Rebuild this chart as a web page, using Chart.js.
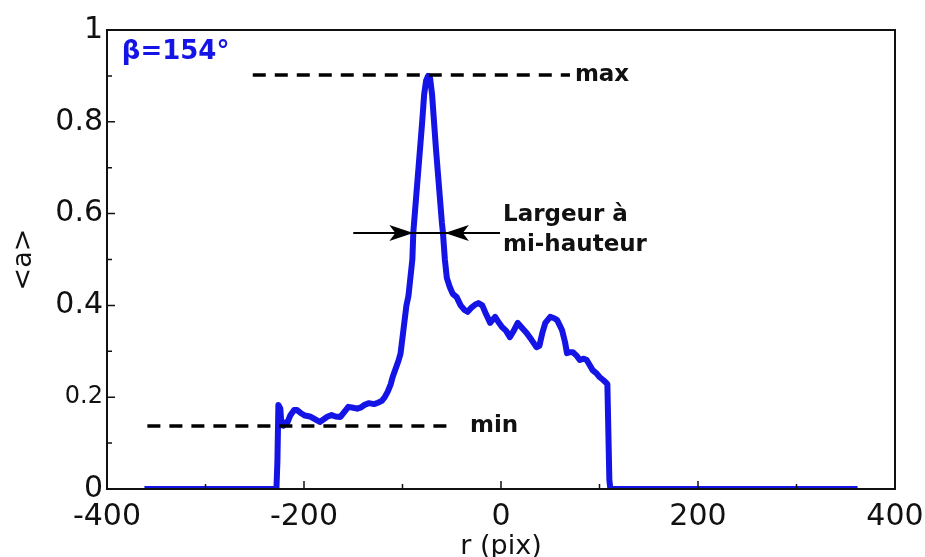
<!DOCTYPE html>
<html>
<head>
<meta charset="utf-8">
<script src="https://cdn.jsdelivr.net/npm/chart.js@4.4.1/dist/chart.umd.min.js"></script>
<style>
  html, body { margin: 0; padding: 0; background: #fff; }
  #wrap { width: 925px; height: 557px; }
</style>
</head>
<body>
<div id="wrap"><canvas id="profileChart"></canvas></div>
<script>
// mean profile <a> along r
const rValues = [
  -362, -300, -228, -227, -226, -224, -223, -221, -219, -217, -214, -210, -207, -203, -199,
  -194, -189, -184, -180, -176, -172, -168, -163, -159, -155, -150, -146, -142, -138, -134,
  -129, -125, -121, -118, -115, -112, -110, -107, -104, -102, -100, -98, -96, -94, -92,
  -90, -89, -86, -83, -80, -78, -76, -74, -72, -70, -68, -66, -63, -60, -59,
  -57, -55, -52, -49, -45, -41, -37, -34, -30, -26, -23, -19, -15, -11, -8,
  -6, -3, 1, 5, 9, 13, 17, 21, 26, 31, 36, 39, 42, 45, 50,
  54, 57, 60, 62, 65, 67, 70, 73, 77, 80, 84, 87, 90, 93, 97,
  100, 104, 107, 108, 110, 111, 200, 362
];
const aValues = [
  0, 0, 0, 0.06, 0.183, 0.175, 0.14, 0.138, 0.145, 0.144, 0.16, 0.172, 0.172, 0.165, 0.16,
  0.158, 0.152, 0.146, 0.152, 0.158, 0.161, 0.158, 0.157, 0.168, 0.179, 0.177, 0.175, 0.178, 0.184, 0.187,
  0.185, 0.188, 0.192, 0.2, 0.212, 0.228, 0.244, 0.262, 0.28, 0.295, 0.33, 0.365, 0.4, 0.42, 0.46,
  0.5, 0.56, 0.64, 0.72, 0.8, 0.86, 0.89, 0.9, 0.895, 0.86, 0.8, 0.74, 0.66, 0.58, 0.56,
  0.5, 0.46, 0.44, 0.425, 0.418, 0.4, 0.39, 0.386, 0.395, 0.402, 0.405, 0.4, 0.38, 0.362, 0.37,
  0.375, 0.365, 0.353, 0.345, 0.331, 0.345, 0.362, 0.352, 0.34, 0.325, 0.309, 0.312, 0.34, 0.362, 0.375,
  0.372, 0.368, 0.355, 0.346, 0.32, 0.296, 0.298, 0.298, 0.29, 0.281, 0.284, 0.281, 0.27, 0.259, 0.252,
  0.244, 0.237, 0.231, 0.228, 0.02, 0, 0, 0
];

// max / min / half-width guides
const maxLevel = 0.902;
const maxLineR = [-252, 70];
const minLevel = 0.137;
const minLineR = [-359, -48];
const halfLevel = 0.558;
const halfLineR = [-150, -1];
const halfArrowTips = [-89, -57];

const xMin = -400, xMax = 400, xStep = 200;
const yMin = 0, yMax = 1, yStep = 0.2;
const xMinorTicks = [-300, -100, 100, 300];
const yMinorTicks = [0.1, 0.3, 0.5, 0.7, 0.9];

const blue = '#1414e6';

// frame, inward ticks, arrowheads and text labels
const decorPlugin = {
  id: 'decor',
  afterDatasetsDraw(chart) {
    const ctx = chart.ctx;
    const area = chart.chartArea;
    const xs = chart.scales.x, ys = chart.scales.y;
    ctx.save();

    // frame
    ctx.strokeStyle = '#111';
    ctx.lineWidth = 2;
    ctx.strokeRect(area.left, area.top, area.right - area.left, area.bottom - area.top);

    // inward ticks
    ctx.lineWidth = 1.5;
    ctx.beginPath();
    for (let v = yMin; v <= yMax + 1e-9; v += yStep) {
      const py = ys.getPixelForValue(v);
      ctx.moveTo(area.left, py); ctx.lineTo(area.left + 8, py);
    }
    yMinorTicks.forEach(v => {
      const py = ys.getPixelForValue(v);
      ctx.moveTo(area.left, py); ctx.lineTo(area.left + 5, py);
    });
    for (let v = xMin; v <= xMax; v += xStep) {
      const px = xs.getPixelForValue(v);
      ctx.moveTo(px, area.bottom); ctx.lineTo(px, area.bottom - 8);
    }
    xMinorTicks.forEach(v => {
      const px = xs.getPixelForValue(v);
      ctx.moveTo(px, area.bottom); ctx.lineTo(px, area.bottom - 5);
    });
    ctx.stroke();

    // arrowheads of the half-width marker
    const ay = ys.getPixelForValue(halfLevel);
    const lt = xs.getPixelForValue(halfArrowTips[0]);
    const rt = xs.getPixelForValue(halfArrowTips[1]);
    ctx.fillStyle = '#000';
    ctx.beginPath();
    ctx.moveTo(lt, ay); ctx.lineTo(lt - 24, ay - 8); ctx.lineTo(lt - 18, ay); ctx.lineTo(lt - 24, ay + 8);
    ctx.closePath(); ctx.fill();
    ctx.beginPath();
    ctx.moveTo(rt, ay); ctx.lineTo(rt + 24, ay - 8); ctx.lineTo(rt + 18, ay); ctx.lineTo(rt + 24, ay + 8);
    ctx.closePath(); ctx.fill();

    // labels
    ctx.textBaseline = 'middle';
    ctx.textAlign = 'left';
    ctx.font = 'bold 23px "DejaVu Sans"';
    ctx.fillStyle = '#111';
    ctx.fillText('max', xs.getPixelForValue(75), ys.getPixelForValue(maxLevel));
    ctx.fillText('min', xs.getPixelForValue(-31.5), ys.getPixelForValue(minLevel));
    ctx.fillText('Largeur à', xs.getPixelForValue(2), ys.getPixelForValue(0.597));
    ctx.fillText('mi-hauteur', xs.getPixelForValue(2), ys.getPixelForValue(0.532));
    ctx.font = 'bold 26px "DejaVu Sans"';
    ctx.fillStyle = blue;
    ctx.fillText('β=154°', xs.getPixelForValue(-385), ys.getPixelForValue(0.952));
    ctx.restore();
  }
};

const toPoints = (xsArr, ysArr) => xsArr.map((x, i) => ({ x: x, y: ysArr[i] }));

new Chart(document.getElementById('profileChart'), {
  type: 'line',
  data: {
    datasets: [
      {
        label: 'max',
        data: toPoints(maxLineR, [maxLevel, maxLevel]),
        borderColor: '#000', borderWidth: 3.5, borderDash: [13, 9], pointRadius: 0
      },
      {
        label: 'min',
        data: toPoints(minLineR, [minLevel, minLevel]),
        borderColor: '#000', borderWidth: 3.5, borderDash: [13, 9], pointRadius: 0
      },
      {
        label: 'half width',
        data: toPoints(halfLineR, [halfLevel, halfLevel]),
        borderColor: '#000', borderWidth: 2, pointRadius: 0
      },
      {
        label: '<a>',
        data: toPoints(rValues, aValues),
        borderColor: blue, borderWidth: 6, pointRadius: 0, tension: 0,
        borderJoinStyle: 'round'
      }
    ]
  },
  options: {
    responsive: true,
    maintainAspectRatio: false,
    animation: false,
    events: [],
    layout: { padding: { top: 30, right: 30, left: 0, bottom: 0 } },
    plugins: {
      legend: { display: false },
      tooltip: { enabled: false }
    },
    scales: {
      x: {
        type: 'linear',
        min: xMin, max: xMax,
        grid: { display: false, drawTicks: false, tickLength: 0 },
        border: { display: false },
        ticks: {
          stepSize: xStep,
          padding: 10,
          color: '#111',
          font: { family: 'DejaVu Sans', size: 30 },
          maxRotation: 0
        },
        title: {
          display: true,
          text: 'r (pix)',
          color: '#111',
          font: { family: 'DejaVu Sans', size: 27 },
          padding: { top: 0, bottom: -6 }
        },
        afterFit(scale) {
          scale.height = 68;
          scale.paddingLeft = 0;
          scale.paddingRight = 0;
        }
      },
      y: {
        type: 'linear',
        min: yMin, max: yMax,
        grid: { display: false, drawTicks: false, tickLength: 0 },
        border: { display: false },
        ticks: {
          stepSize: yStep,
          padding: 4,
          color: '#111',
          callback: v => String(Math.round(v * 10) / 10),
          font: ctx => ({ family: 'DejaVu Sans', size: ctx.tick && Math.abs(ctx.tick.value - 0.2) < 1e-6 ? 24 : 30 })
        },
        title: {
          display: true,
          text: '<a>',
          color: '#111',
          font: { family: 'DejaVu Sans', size: 27 },
          padding: { top: 8 }
        },
        afterFit(scale) {
          scale.width = 107;
          scale.paddingTop = 0;
          scale.paddingBottom = 0;
        }
      }
    }
  },
  plugins: [decorPlugin]
});
</script>
</body>
</html>
